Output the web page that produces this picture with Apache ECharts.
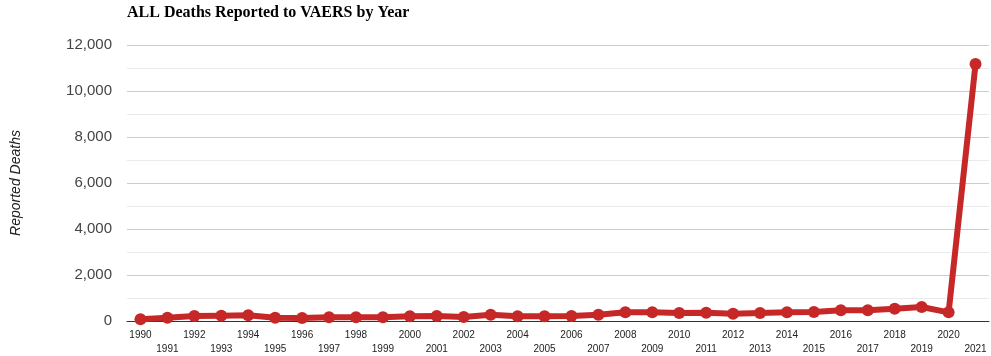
<!DOCTYPE html>
<html><head><meta charset="utf-8">
<script src="https://cdn.jsdelivr.net/npm/echarts@6/dist/echarts.min.js"></script>
<style>html,body{margin:0;padding:0;background:#fff}#c{width:991px;height:356px}</style>
</head><body><div id="c"></div>
<script>
const years = ['1990','1991','1992','1993','1994','1995','1996','1997','1998','1999','2000','2001','2002','2003','2004','2005','2006','2007','2008','2009','2010','2011','2012','2013','2014','2015','2016','2017','2018','2019','2020','2021'];
const deaths = [74,145,217,232,246,145,130,160,160,160,203,217,174,275,203,203,217,275,377,377,348,362,319,348,377,391,464,464,536,609,377,11170];
const yTicks = {min:0, max:12000, interval:2000};
const title = 'ALL Deaths Reported to VAERS by Year';
const yName = 'Reported Deaths';

const chart = echarts.init(document.getElementById('c'));
chart.setOption({
  animation:false,
  title:{text:title,left:127,top:5,padding:0,textStyle:{fontFamily:'Liberation Serif',fontWeight:'bold',fontSize:16,color:'#000'}},
  grid:{left:127,right:2,top:45,bottom:35,containLabel:false},
  xAxis:{type:'category',data:years,boundaryGap:true,
    axisLine:{lineStyle:{color:'#333',width:1}},axisTick:{show:false},
    axisLabel:{interval:0,margin:7,fontFamily:'Arial, Liberation Sans',fontSize:10,color:'#222',lineHeight:14,
      formatter:(v,i)=> i%2===1 ? '\n'+v : v}},
  yAxis:{type:'value',min:yTicks.min,max:yTicks.max,interval:yTicks.interval,
    name:yName,nameLocation:'middle',nameGap:104,nameRotate:90,
    nameTextStyle:{fontFamily:'Arial, Liberation Sans',fontStyle:'italic',fontSize:14,color:'#222'},
    axisLine:{show:false},axisTick:{show:false},
    axisLabel:{margin:15,fontFamily:'Arial, Liberation Sans',fontSize:15,color:'#444',
      formatter:v=>v.toLocaleString('en-US')},
    splitLine:{lineStyle:{color:'#ccc',width:1}},
    minorTick:{show:false,splitNumber:2},
    minorSplitLine:{show:true,lineStyle:{color:'#ebebeb',width:1}}},
  series:[{type:'line',data:deaths,symbol:'circle',symbolSize:12,
    lineStyle:{color:'#c62828',width:6},itemStyle:{color:'#c62828'}}]
});
</script></body></html>
